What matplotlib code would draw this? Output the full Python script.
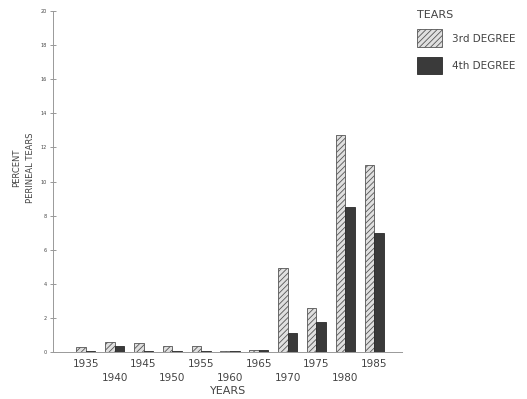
import numpy as np
import matplotlib
matplotlib.use('Agg')
import matplotlib.pyplot as plt
from matplotlib.patches import Patch

# percent perineal tears by year
years = [1935, 1940, 1945, 1950, 1955, 1960, 1965, 1970, 1975, 1980, 1985]
third_degree = [0.3, 0.6, 0.5, 0.35, 0.35, 0.05, 0.1, 4.9, 2.6, 12.75, 10.95]
fourth_degree = [0.05, 0.35, 0.05, 0.05, 0.05, 0.05, 0.1, 1.1, 1.75, 8.5, 7.0]
yticks = list(range(0, 21, 2))

plt.rcParams['font.family'] = 'DejaVu Sans'
plt.rcParams['hatch.color'] = '#555555'
plt.rcParams['hatch.linewidth'] = 0.6

fig = plt.figure(figsize=(5.27, 3.99), dpi=100)
ax = fig.add_axes([0.1006, 0.1178, 0.664, 0.8546])

x = np.array(years, dtype=float)
w = 1.65
ax.bar(x - w / 2, third_degree, width=w, facecolor='#e0e0e0', edgecolor='#555555',
       linewidth=0.6, hatch='//////')
ax.bar(x + w / 2, fourth_degree, width=w, facecolor='#3a3a3a', edgecolor='#2a2a2a',
       linewidth=0.6)

ax.set_xlim(1929.3, 1990)
ax.set_ylim(0, 20)

for s in ['top', 'right']:
    ax.spines[s].set_visible(False)
for s in ['left', 'bottom']:
    ax.spines[s].set_color('#999999')
    ax.spines[s].set_linewidth(0.7)
    ax.spines[s].set_linestyle((0, (3, 1)))

ax.set_yticks(yticks)
ax.set_yticklabels([str(v) for v in yticks], fontsize=3.5, color='#444444')
ax.tick_params(axis='y', direction='inout', length=5, width=0.6, color='#888888', pad=2)

xlabels = []
for i, yr in enumerate(years):
    xlabels.append(str(yr) if i % 2 == 0 else '\n' + str(yr))
ax.set_xticks(years)
ax.set_xticklabels(xlabels, fontsize=7.5, color='#444444', linespacing=1.5)
ax.tick_params(axis='x', length=0, pad=5)

ax.set_xlabel('YEARS', fontsize=8, color='#444444', labelpad=2)
fig.text(0.045, 0.58, 'PERCENT\nPERINEAL TEARS', rotation=90, ha='center', va='center',
         fontsize=6, color='#444444', linespacing=1.6)

handles = [Patch(facecolor='#e0e0e0', edgecolor='#555555', hatch='//////', linewidth=0.6),
           Patch(facecolor='#3a3a3a', edgecolor='#2a2a2a', linewidth=0.6)]
leg = fig.legend(handles, ['3rd DEGREE', '4th DEGREE'], title='TEARS',
                 loc='upper left', bbox_to_anchor=(0.777, 0.993), frameon=False,
                 borderpad=0.2, fontsize=7.5, title_fontsize=8, handlelength=2.4,
                 handleheight=2.25, labelspacing=0.9, handletextpad=1.0,
                 alignment='left')
for t in leg.get_texts():
    t.set_color('#444444')
leg.get_title().set_color('#444444')

plt.savefig('out.png', dpi=100)
